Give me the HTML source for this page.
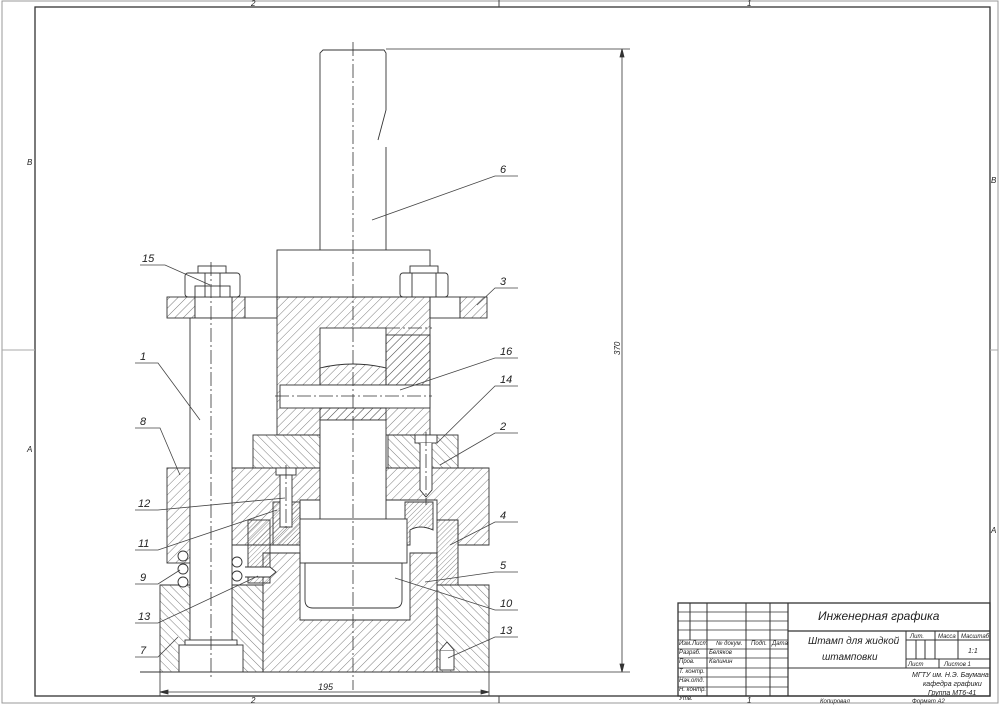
<!DOCTYPE html>
<html><head><meta charset="utf-8"><style>
html,body{margin:0;padding:0;background:#fff}
svg{display:block}
text{font-family:"Liberation Sans",sans-serif;font-style:italic;fill:#222}
</style></head><body>
<svg width="1000" height="705" viewBox="0 0 1000 705" xmlns="http://www.w3.org/2000/svg">
<defs>
<pattern id="hA" width="6" height="6" patternUnits="userSpaceOnUse" patternTransform="rotate(45)"><line x1="0" y1="0" x2="0" y2="6" stroke="#444" stroke-width="0.7"/></pattern>
<pattern id="hB" width="6" height="6" patternUnits="userSpaceOnUse" patternTransform="rotate(-45)"><line x1="0" y1="0" x2="0" y2="6" stroke="#444" stroke-width="0.7"/></pattern>
<pattern id="hC" width="3.5" height="3.5" patternUnits="userSpaceOnUse" patternTransform="rotate(45)"><line x1="0" y1="0" x2="0" y2="3.5" stroke="#444" stroke-width="0.6"/></pattern>
</defs>
<g fill="none" stroke="#444" stroke-width="1">
<rect x="2" y="1" width="996" height="702" stroke="#999"/>
<rect x="35" y="7" width="955" height="689" stroke="#333" stroke-width="1.3"/>
<line x1="499" y1="0" x2="499" y2="7"/>
<line x1="499" y1="696" x2="499" y2="703"/>
<line x1="35" y1="350" x2="2" y2="350" stroke="#aaa"/>
<line x1="990" y1="350" x2="998" y2="350" stroke="#aaa"/>
</g>
<g font-size="8">
<text x="251" y="6">2</text><text x="747" y="6">1</text>
<text x="27" y="165">B</text><text x="27" y="452">A</text>
<text x="991" y="183">B</text><text x="991" y="533">A</text>
<text x="251" y="703">2</text><text x="747" y="703">1</text>
</g>

<g stroke="#333" stroke-width="0.9">
<rect x="167" y="297" width="28" height="21" fill="url(#hA)"/>
<rect x="232" y="297" width="13" height="21" fill="url(#hA)"/>
<rect x="245" y="297" width="32" height="21" fill="#fff"/>
<rect x="430" y="297" width="30" height="21" fill="#fff"/>
<rect x="460" y="297" width="27" height="21" fill="url(#hA)"/>
<rect x="195" y="297" width="37" height="21" fill="#fff"/>
<rect x="277" y="250" width="153" height="47" fill="#fff"/>
<rect x="277" y="297" width="153" height="138" fill="url(#hA)"/>
<rect x="320" y="328" width="66" height="57" fill="#fff"/>
<path d="M320 368 Q353 360 386 368 L386 385 L320 385 Z" fill="url(#hA)"/>
<rect x="386" y="335" width="44" height="50" fill="url(#hA)"/>
<rect x="280" y="385" width="150" height="23" fill="#fff"/>
<rect x="320" y="408" width="66" height="12" fill="url(#hA)"/>
<rect x="253" y="435" width="67" height="33" fill="url(#hB)"/>
<rect x="388" y="435" width="70" height="33" fill="url(#hB)"/>
<path d="M232 468 H320 V500 H300 V545 H232 Z" fill="url(#hA)"/>
<path d="M386 468 H489 V545 H458 V520 H437 V500 H386 Z" fill="url(#hA)"/>
<rect x="320" y="420" width="66" height="100" fill="#fff"/>
<rect x="273" y="502" width="27" height="43" fill="url(#hC)"/>
<path d="M405 502 H433 V530 Q420 524 410 530 V545 H405 Z" fill="url(#hC)"/>
<rect x="437" y="520" width="21" height="65" fill="url(#hC)"/>
<rect x="248" y="520" width="22" height="63" fill="url(#hC)"/>
<rect x="300" y="519" width="107" height="44" fill="#fff"/>
<rect x="167" y="468" width="23" height="95" fill="url(#hA)"/>
<path d="M160 585 H190 V672 H160 Z" fill="url(#hB)"/>
<path d="M232 585 H263 V672 H232 Z" fill="url(#hB)"/>
<path d="M437 585 H489 V672 H437 Z" fill="url(#hB)"/>
<path d="M263 553 H300 V620 H410 V553 H437 V672 H263 Z" fill="url(#hA)"/>
<rect x="179" y="645" width="64" height="27" fill="#fff"/>
<path d="M305 563 H402 V600 Q402 608 394 608 H313 Q305 608 305 600 Z" fill="#fff"/>
<rect x="190" y="318" width="42" height="327" fill="#fff"/>
<rect x="185" y="640" width="52" height="5" fill="#fff"/>
</g>

<g fill="#fff" stroke="#333" stroke-width="0.9">
<rect x="185" y="273" width="55" height="24" rx="3"/>
<rect x="195" y="286" width="35" height="11"/>
<line x1="205" y1="273" x2="205" y2="297"/><line x1="220" y1="273" x2="220" y2="297"/>
<rect x="198" y="266" width="28" height="7"/>
<rect x="400" y="273" width="48" height="24" rx="3"/>
<line x1="412" y1="273" x2="412" y2="297"/><line x1="436" y1="273" x2="436" y2="297"/>
<rect x="410" y="266" width="28" height="7"/>
<path d="M320 250 V53 L323 50 H384 L386 53 V110 L378 140 M386 147 V250"/>
<rect x="415" y="435" width="22" height="8"/>
<path d="M420 443 V490 L426 497 L432 490 V443"/>
<rect x="276" y="468" width="20" height="7"/>
<rect x="280" y="475" width="12" height="52"/>
<rect x="440" y="650" width="14" height="20"/>
<path d="M440 650 L447 642 L454 650"/>
<circle cx="183" cy="556" r="5"/><circle cx="183" cy="569" r="5"/><circle cx="183" cy="582" r="5"/>
<circle cx="237" cy="562" r="5"/><circle cx="237" cy="576" r="5"/>
<path d="M245 567 H270 L276 572 L270 577 H245"/>
</g>

<g stroke="#333" stroke-width="0.8" stroke-dasharray="14 3 2 3" fill="none">
<line x1="353" y1="42" x2="353" y2="690"/>
<line x1="211" y1="262" x2="211" y2="680"/>
<line x1="275" y1="396" x2="432" y2="396"/>
<line x1="386" y1="328" x2="432" y2="328"/>
<line x1="426" y1="432" x2="426" y2="505"/>
<line x1="286" y1="465" x2="286" y2="530"/>
</g>

<g stroke="#333" stroke-width="0.8" fill="#333">
<line x1="386" y1="49" x2="630" y2="49"/>
<line x1="489" y1="672" x2="630" y2="672"/>
<line x1="622" y1="49" x2="622" y2="672"/>
<path d="M622 49 l-2 8 h4z"/><path d="M622 672 l-2 -8 h4z"/>
<line x1="160" y1="672" x2="160" y2="696"/><line x1="489" y1="672" x2="489" y2="696"/>
<line x1="160" y1="692" x2="489" y2="692"/>
<path d="M160 692 l8 -2 v4z"/><path d="M489 692 l-8 -2 v4z"/>
<line x1="140" y1="672" x2="500" y2="672" stroke-width="1.1"/>
</g>
<text x="614" y="355" font-size="8" transform="rotate(-90 617 352)">370</text>
<text x="318" y="690" font-size="9">195</text>

<g stroke="#444" stroke-width="0.8" fill="none">
<path d="M140 265 H165 L210 285"/>
<path d="M518 288 H495 L477 305"/>
<path d="M518 176 H495 L372 220"/>
<path d="M518 358 H495 L400 390"/>
<path d="M518 386 H495 L437 443"/>
<path d="M518 433 H495 L440 465"/>
<path d="M518 522 H495 L450 545"/>
<path d="M518 572 H495 L425 582"/>
<path d="M518 610 H495 L395 578"/>
<path d="M518 637 H495 L448 658"/>
<path d="M135 363 H158 L200 420"/>
<path d="M135 428 H160 L180 475"/>
<path d="M135 510 H158 L285 498"/>
<path d="M135 550 H158 L277 510"/>
<path d="M135 584 H158 L180 570"/>
<path d="M135 623 H158 L258 576"/>
<path d="M135 657 H158 L178 637"/>
</g>
<g font-size="11">
<text x="142" y="262">15</text><text x="500" y="285">3</text><text x="500" y="173">6</text>
<text x="500" y="355">16</text><text x="500" y="383">14</text><text x="500" y="430">2</text>
<text x="500" y="519">4</text><text x="500" y="569">5</text><text x="500" y="607">10</text>
<text x="500" y="634">13</text><text x="140" y="360">1</text><text x="140" y="425">8</text>
<text x="138" y="507">12</text><text x="138" y="547">11</text><text x="140" y="581">9</text>
<text x="138" y="620">13</text><text x="140" y="654">7</text>
</g>

<g stroke="#333" stroke-width="1" fill="none">
<rect x="678" y="603" width="312" height="93" stroke-width="1.3"/>
<line x1="788" y1="603" x2="788" y2="696" stroke-width="1.2"/>
<line x1="788" y1="631" x2="990" y2="631" stroke-width="1.2"/>
<line x1="788" y1="668" x2="990" y2="668"/>
<line x1="906" y1="631" x2="906" y2="668"/>
<line x1="906" y1="640" x2="990" y2="640"/>
<line x1="906" y1="659" x2="990" y2="659"/>
<line x1="935" y1="631" x2="935" y2="659"/><line x1="958" y1="631" x2="958" y2="659"/>
<line x1="916" y1="640" x2="916" y2="659"/><line x1="925" y1="640" x2="925" y2="659"/>
<line x1="939" y1="659" x2="939" y2="668"/>
<g stroke-width="0.7">
<line x1="678" y1="612" x2="788" y2="612"/><line x1="678" y1="621" x2="788" y2="621"/>
<line x1="678" y1="630" x2="788" y2="630"/><line x1="678" y1="640" x2="788" y2="640"/>
<line x1="678" y1="649" x2="788" y2="649"/><line x1="678" y1="658" x2="788" y2="658"/>
<line x1="678" y1="668" x2="788" y2="668"/><line x1="678" y1="677" x2="788" y2="677"/>
<line x1="678" y1="687" x2="788" y2="687"/>
</g>
<line x1="690" y1="603" x2="690" y2="640"/><line x1="707" y1="603" x2="707" y2="696"/>
<line x1="746" y1="603" x2="746" y2="696"/><line x1="770" y1="603" x2="770" y2="696"/>
</g>
<g font-size="6">
<text x="679" y="645">Изм.</text><text x="692" y="645">Лист</text><text x="716" y="645">№ докум.</text>
<text x="751" y="645">Подп.</text><text x="772" y="645">Дата</text>
<text x="679" y="654">Разраб.</text><text x="709" y="654">Беляков</text>
<text x="679" y="663">Пров.</text><text x="709" y="663">Калинин</text>
<text x="679" y="673">Т. контр.</text><text x="679" y="682">Нач.отд.</text>
<text x="679" y="691">Н. контр.</text><text x="679" y="700">Утв.</text>
<text x="910" y="638">Лит.</text><text x="938" y="638">Масса</text><text x="961" y="638">Масштаб</text>
<text x="908" y="666">Лист</text><text x="944" y="666">Листов   1</text>
<text x="820" y="703">Копировал</text><text x="912" y="703">Формат A2</text>
</g>
<text x="818" y="620" font-size="12">Инженерная графика</text>
<text x="808" y="644" font-size="10">Штамп для жидкой</text>
<text x="822" y="660" font-size="10">штамповки</text>
<text x="968" y="653" font-size="7">1:1</text>
<text x="912" y="677" font-size="7">МГТУ им. Н.Э. Баумана</text>
<text x="923" y="686" font-size="7">кафедра графики</text>
<text x="928" y="695" font-size="7">Группа МТ6-41</text>
</svg>
</body></html>
